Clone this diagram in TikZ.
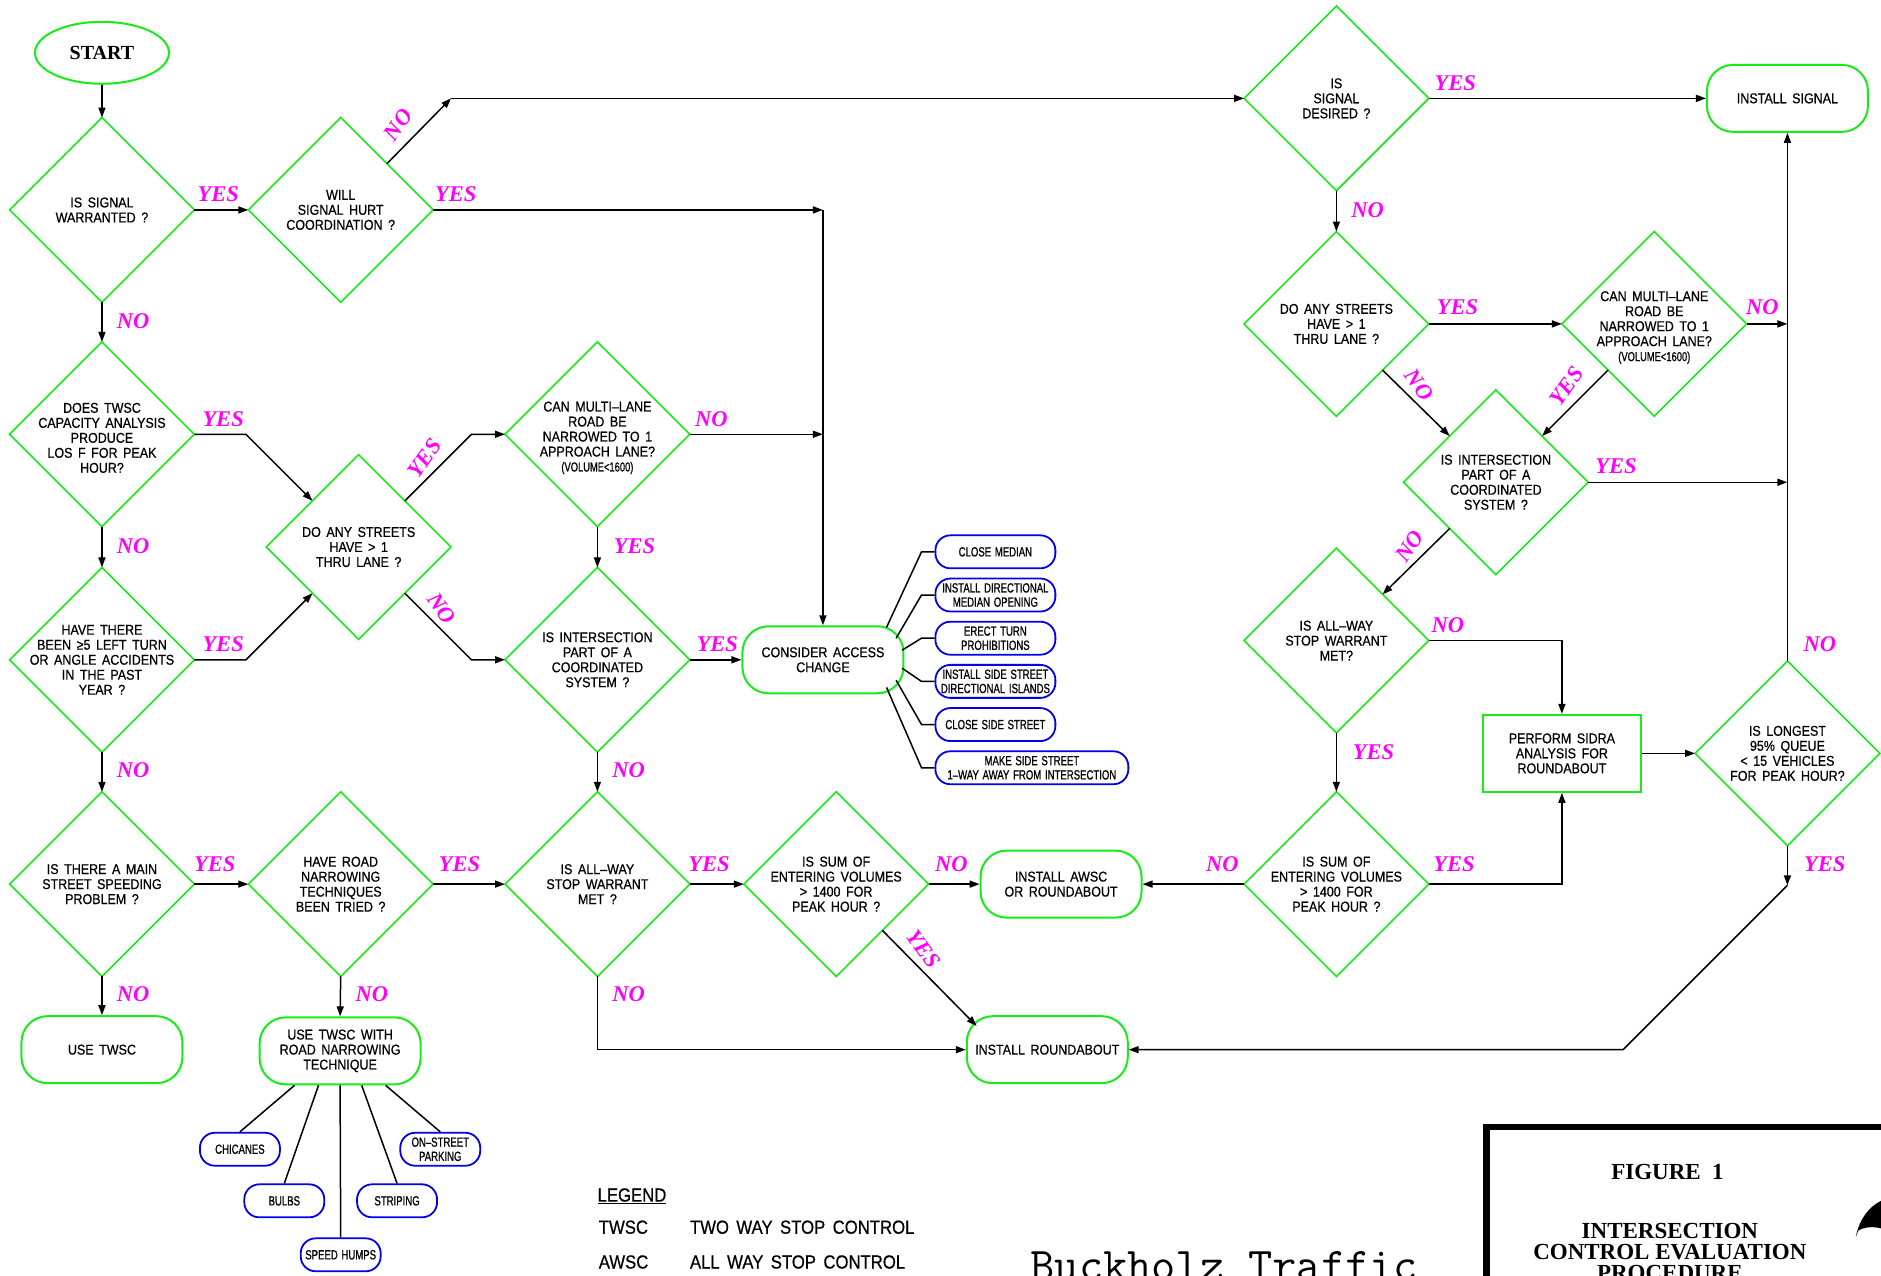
\documentclass[tikz,border=0pt]{standalone}
\usepackage{fontspec}
\usetikzlibrary{shapes.geometric,arrows.meta,calc}
\newfontfamily\cadfam[FakeStretch=0.88,WordSpace=1.6,FakeBold=0.6]{Liberation Sans}
\newfontfamily\cadnarrow[FakeStretch=0.72,WordSpace=1.4,FakeBold=0.8]{Liberation Sans}
\newfontfamily\serfam{Liberation Serif}
\definecolor{grn}{RGB}{25,235,25}
\definecolor{mag}{RGB}{255,0,255}
\definecolor{blu}{RGB}{0,0,235}
\newcommand\nodefont{\cadfam\fontsize{14.2}{15}\selectfont}
\newcommand\smallcad{\cadnarrow\fontsize{13}{15}\selectfont}
\newcommand\bluefont{\cadnarrow\fontsize{13.3}{14.2}\selectfont}
\newcommand\labfont{\serfam\bfseries\itshape\fontsize{22.5}{24}\selectfont}
\newcommand\legfont{\cadfam\fontsize{19}{20}\selectfont}
\newcommand\titlefont{\serfam\bfseries\fontsize{23}{25}\selectfont}
\newcommand\startfont{\serfam\bfseries\fontsize{20}{22}\selectfont}
\begin{document}
\begin{tikzpicture}[x=1.2pt,y=-1.2pt,
  dia/.style={diamond,draw=grn,line width=1.6pt,minimum width=184.8pt,minimum height=184.8pt,inner sep=0pt,outer sep=0pt},
  term/.style={draw=grn,line width=2pt,rounded corners=26pt,minimum width=161pt,minimum height=67pt,inner sep=0pt,align=center,font=\nodefont},
  bbox/.style={draw=blu,line width=1.8pt,rounded corners=15pt,minimum width=120pt,minimum height=33pt,inner sep=0pt,align=center,font=\bluefont},
  sbox/.style={bbox,minimum width=80pt},
  txt/.style={align=center,inner sep=0pt,font=\nodefont},
  lab/.style={text=mag,font=\labfont,inner sep=0pt},
  arr/.style={-{Triangle[length=10pt,width=7pt]},line width=1.5pt},
  ln/.style={line width=1.5pt},
  leg/.style={anchor=west,inner sep=0pt,font=\legfont}]
\useasboundingbox[fill=white] (0,0) rectangle (1568,1063);

% ---------- nodes ----------
\node[draw=grn,ellipse,line width=2pt,minimum width=134pt,minimum height=62pt,font=\startfont] (start) at (85,44) {START};

\node[dia] (d1) at (85,175) {};
\node[txt] (t1) at (d1) {IS SIGNAL\\WARRANTED ?};
\node[dia] (d2) at (85,362) {};
\node[txt] (t2) at ($(d2)+(0,3)$) {DOES TWSC\\CAPACITY ANALYSIS\\PRODUCE\\LOS F FOR PEAK\\HOUR?};
\node[dia] (d3) at (85,550) {};
\node[txt] (t3) at (d3) {HAVE THERE\\BEEN ≥5 LEFT TURN\\OR ANGLE ACCIDENTS\\IN THE PAST\\YEAR ?};
\node[dia] (d4) at (85,737) {};
\node[txt] (t4) at (d4) {IS THERE A MAIN\\STREET SPEEDING\\PROBLEM ?};

\node[dia] (d5) at (284,175) {};
\node[txt] (t5) at (d5) {WILL\\SIGNAL HURT\\COORDINATION ?};
\node[dia] (d6) at (299,456) {};
\node[txt] (t6) at (d6) {DO ANY STREETS\\HAVE > 1\\THRU LANE ?};
\node[dia] (d7) at (284,737) {};
\node[txt] (t7) at (d7) {HAVE ROAD\\NARROWING\\TECHNIQUES\\BEEN TRIED ?};

\node[dia] (d8) at (498,362) {};
\node[txt] (t8) at ($(d8)+(0,3)$) {CAN MULTI–LANE\\ROAD BE\\NARROWED TO 1\\APPROACH LANE?\\{\smallcad (VOLUME<1600)}};
\node[dia] (d9) at (498,550) {};
\node[txt] (t9) at (d9) {IS INTERSECTION\\PART OF A\\COORDINATED\\SYSTEM ?};
\node[dia] (d10) at (498,737) {};
\node[txt] (t10) at (d10) {IS ALL–WAY\\STOP WARRANT\\MET ?};
\node[dia] (d11) at (697,737) {};
\node[txt] (t11) at (d11) {IS SUM OF\\ENTERING VOLUMES\\> 1400 FOR\\PEAK HOUR ?};

\node[dia] (d12) at (1114,82) {};
\node[txt] (t12) at (d12) {IS\\SIGNAL\\DESIRED ?};
\node[dia] (d13) at (1114,270) {};
\node[txt] (t13) at (d13) {DO ANY STREETS\\HAVE > 1\\THRU LANE ?};
\node[dia] (d16) at (1379,270) {};
\node[txt] (t16) at ($(d16)+(0,3)$) {CAN MULTI–LANE\\ROAD BE\\NARROWED TO 1\\APPROACH LANE?\\{\smallcad (VOLUME<1600)}};
\node[dia] (d17) at (1247,402) {};
\node[txt] (t17) at (d17) {IS INTERSECTION\\PART OF A\\COORDINATED\\SYSTEM ?};
\node[dia] (d14) at (1114,534) {};
\node[txt] (t14) at (d14) {IS ALL–WAY\\STOP WARRANT\\MET?};
\node[dia] (d15) at (1114,737) {};
\node[txt] (t15) at (d15) {IS SUM OF\\ENTERING VOLUMES\\> 1400 FOR\\PEAK HOUR ?};
\node[dia] (d18) at (1490,628) {};
\node[txt] (t18) at (d18) {IS LONGEST\\95\% QUEUE\\< 15 VEHICLES\\FOR PEAK HOUR?};

\node[term] (utw) at (85,875) {USE TWSC};
\node[term] (utr) at (283.5,876) {USE TWSC WITH\\ROAD NARROWING\\TECHNIQUE};
\node[term] (cac) at (686,550) {CONSIDER ACCESS\\CHANGE};
\node[term] (iaw) at (884.5,737) {INSTALL AWSC\\OR ROUNDABOUT};
\node[term] (ir) at (873,875) {INSTALL ROUNDABOUT};
\node[term] (isg) at (1490,82) {INSTALL SIGNAL};
\node[draw=grn,line width=2pt,minimum width=158pt,minimum height=77pt,inner sep=0pt,align=center,font=\nodefont] (sid) at (1302,628) {PERFORM SIDRA\\ANALYSIS FOR\\ROUNDABOUT};

% blue boxes
\node[sbox] (chi) at (200,958) {CHICANES};
\node[sbox] (bul) at (237,1001) {BULBS};
\node[sbox] (hum) at (284,1046) {SPEED HUMPS};
\node[sbox] (str) at (331,1001) {STRIPING};
\node[sbox] (osp) at (367,958) {ON–STREET\\PARKING};

\node[bbox,anchor=west] (b1) at (779,460) {CLOSE MEDIAN};
\node[bbox,anchor=west] (b2) at (779,496) {INSTALL DIRECTIONAL\\MEDIAN OPENING};
\node[bbox,anchor=west] (b3) at (779,532) {ERECT TURN\\PROHIBITIONS};
\node[bbox,anchor=west] (b4) at (779,568) {INSTALL SIDE STREET\\DIRECTIONAL ISLANDS};
\node[bbox,anchor=west] (b5) at (779,604) {CLOSE SIDE STREET};
\node[bbox,anchor=west,minimum width=193pt] (b6) at (779,640) {MAKE SIDE STREET\\1–WAY AWAY FROM INTERSECTION};

% ---------- connectors ----------
\coordinate (c1) at (376,82);
\coordinate (c4) at (686,175);
\coordinate (c2) at (1490,738);
\coordinate (c3) at (1353,875);

\draw[arr] (start) -- (d1.north);
\draw[arr] (d1.east) -- (d5.west);
\draw[arr] (d1.south) -- (d2.north);
\draw[arr] (d2.south) -- (d3.north);
\draw[arr] (d3.south) -- (d4.north);
\draw[arr] (d4.south) -- (utw.north);
\draw[arr] (d4.east) -- (d7.west);
\draw[arr] (d7.east) -- (d10.west);
\draw[arr] (d7.south) -- (utr.north);
\draw[arr] (d5.north east) -- (c1);
\draw[arr] (c1) -- (d12.west);
\draw[arr] (d5.east) -- (c4);
\draw[arr] (c4) -- (cac.north);
\draw[arr] (d2.east) -- (205,362) -- (d6.north west);
\draw[arr] (d3.east) -- (205,550) -- (d6.south west);
\draw[arr] (d6.north east) -- (393,362) -- (d8.west);
\draw[arr] (d6.south east) -- (393,550) -- (d9.west);
\draw[arr] (d8.east) -- (c4 |- d8.east);
\draw[arr] (d8.south) -- (d9.north);
\draw[arr] (d9.east) -- (cac.west);
\draw[arr] (d9.south) -- (d10.north);
\draw[arr] (d10.east) -- (d11.west);
\draw[arr] (d10.south) |- (ir.west);
\draw[arr] (d11.east) -- (iaw.west);
\draw[arr] (d11.south east) -- ($(ir.north west)+(9,9)$);

\draw[arr] (d12.east) -- (isg.west);
\draw[arr] (d12.south) -- (d13.north);
\draw[arr] (d13.east) -- (d16.west);
\draw[arr] (d13.south east) -- (d17.north west);
\draw[arr] (d16.south west) -- (d17.north east);
\draw[arr] (d16.east) -- (isg.south |- d16.east);
\draw[arr] (d17.east) -- (isg.south |- d17.east);
\draw[arr] (d17.south west) -- (d14.north east);
\draw[arr] (d14.east) -| (sid.north);
\draw[arr] (d14.south) -- (d15.north);
\draw[arr] (d15.west) -- (iaw.east);
\draw[arr] (d15.east) -| (sid.south);
\draw[arr] (sid.east) -- (d18.west);
\draw[arr] (d18.north) -- (isg.south);
\draw[arr] (d18.south) -- (c2);
\draw[arr] (c2) -- (c3) -- (ir.east);

% branches to blue boxes
\draw[ln] ($(utr.south)+(-38,0)$) -- (chi.north);
\draw[ln] ($(utr.south)+(-18,0)$) -- (bul.north);
\draw[ln] (utr.south) -- (hum.north);
\draw[ln] ($(utr.south)+(18,0)$) -- (str.north);
\draw[ln] ($(utr.south)+(38,0)$) -- (osp.north);

\draw[ln] ($(cac)+(53,-27)$) -- ([xshift=-13pt]b1.west) -- (b1.west);
\draw[ln] ($(cac)+(61,-18)$) -- ([xshift=-13pt]b2.west) -- (b2.west);
\draw[ln] ($(cac)+(66,-8)$) -- ([xshift=-13pt]b3.west) -- (b3.west);
\draw[ln] ($(cac)+(66,7)$) -- ([xshift=-13pt]b4.west) -- (b4.west);
\draw[ln] ($(cac)+(61,17)$) -- ([xshift=-13pt]b5.west) -- (b5.west);
\draw[ln] ($(cac)+(53,23)$) -- ([xshift=-13pt]b6.west) -- (b6.west);

% ---------- YES / NO labels ----------
\node[lab] (l1) at (182,162) {YES};
\node[lab] (l2) at (380,162) {YES};
\node[lab,rotate=55] (l3) at (332,104) {NO};
\node[lab] (l4) at (111,268) {NO};
\node[lab] (l5) at (186,349) {YES};
\node[lab] (l6) at (111,455) {NO};
\node[lab] (l7) at (186,537) {YES};
\node[lab] (l8) at (111,642) {NO};
\node[lab,rotate=55] (l9) at (354,382) {YES};
\node[lab,rotate=-55] (l10) at (368,507) {NO};
\node[lab] (l11) at (593,349) {NO};
\node[lab] (l12) at (529,455) {YES};
\node[lab] (l13) at (598,537) {YES};
\node[lab] (l14) at (524,642) {NO};
\node[lab] (l15) at (179,720) {YES};
\node[lab] (l16) at (383,720) {YES};
\node[lab] (l17) at (591,720) {YES};
\node[lab] (l18) at (793,720) {NO};
\node[lab,rotate=-55] (l19) at (770,791) {YES};
\node[lab] (l20) at (111,829) {NO};
\node[lab] (l21) at (310,829) {NO};
\node[lab] (l22) at (524,829) {NO};
\node[lab] (l23) at (1019,720) {NO};
\node[lab] (l24) at (1212,720) {YES};
\node[lab] (l25) at (1145,627) {YES};
\node[lab] (l26) at (1207,521) {NO};
\node[lab,rotate=55] (l27) at (1175,455) {NO};
\node[lab] (l28) at (1347,389) {YES};
\node[lab,rotate=55] (l29) at (1306,322) {YES};
\node[lab,rotate=-55] (l30) at (1183,321) {NO};
\node[lab] (l31) at (1215,256) {YES};
\node[lab] (l32) at (1469,256) {NO};
\node[lab] (l33) at (1140,175) {NO};
\node[lab] (l34) at (1213,69) {YES};
\node[lab] (l35) at (1517,537) {NO};
\node[lab] (l36) at (1521,720) {YES};

% ---------- legend ----------
\node[leg] (lg0) at (498,997) {\underline{LEGEND}};
\node[leg] (lg1) at (499,1023) {TWSC};
\node[leg] (lg2) at (575,1023) {TWO WAY STOP CONTROL};
\node[leg] (lg3) at (499,1052) {AWSC};
\node[leg] (lg4) at (575,1052) {ALL WAY STOP CONTROL};

% ---------- title block ----------
\node[anchor=base west,inner sep=0pt,font=\ttfamily\fontsize{47}{50}\selectfont] (buck) at (859,1067.5) {Buckholz Traffic};
\draw[line width=6.5pt] (1239,1100) -- (1239,939.5) -- (1600,939.5);
\node[font=\titlefont,inner sep=0pt] (fg) at (1390,977) {FIGURE\ \ 1};
\node[font=\titlefont,inner sep=0pt,align=center] (fg2) at (1392,1044) {INTERSECTION\\[-4pt]CONTROL EVALUATION\\[-4pt]PROCEDURE};
\fill (1547,1031) .. controls (1550,1016) and (1558,1006) .. (1568,1001) -- (1568,1024) .. controls (1561,1022) and (1553,1023) .. (1549,1026) -- cycle;
\end{tikzpicture}
\end{document}
